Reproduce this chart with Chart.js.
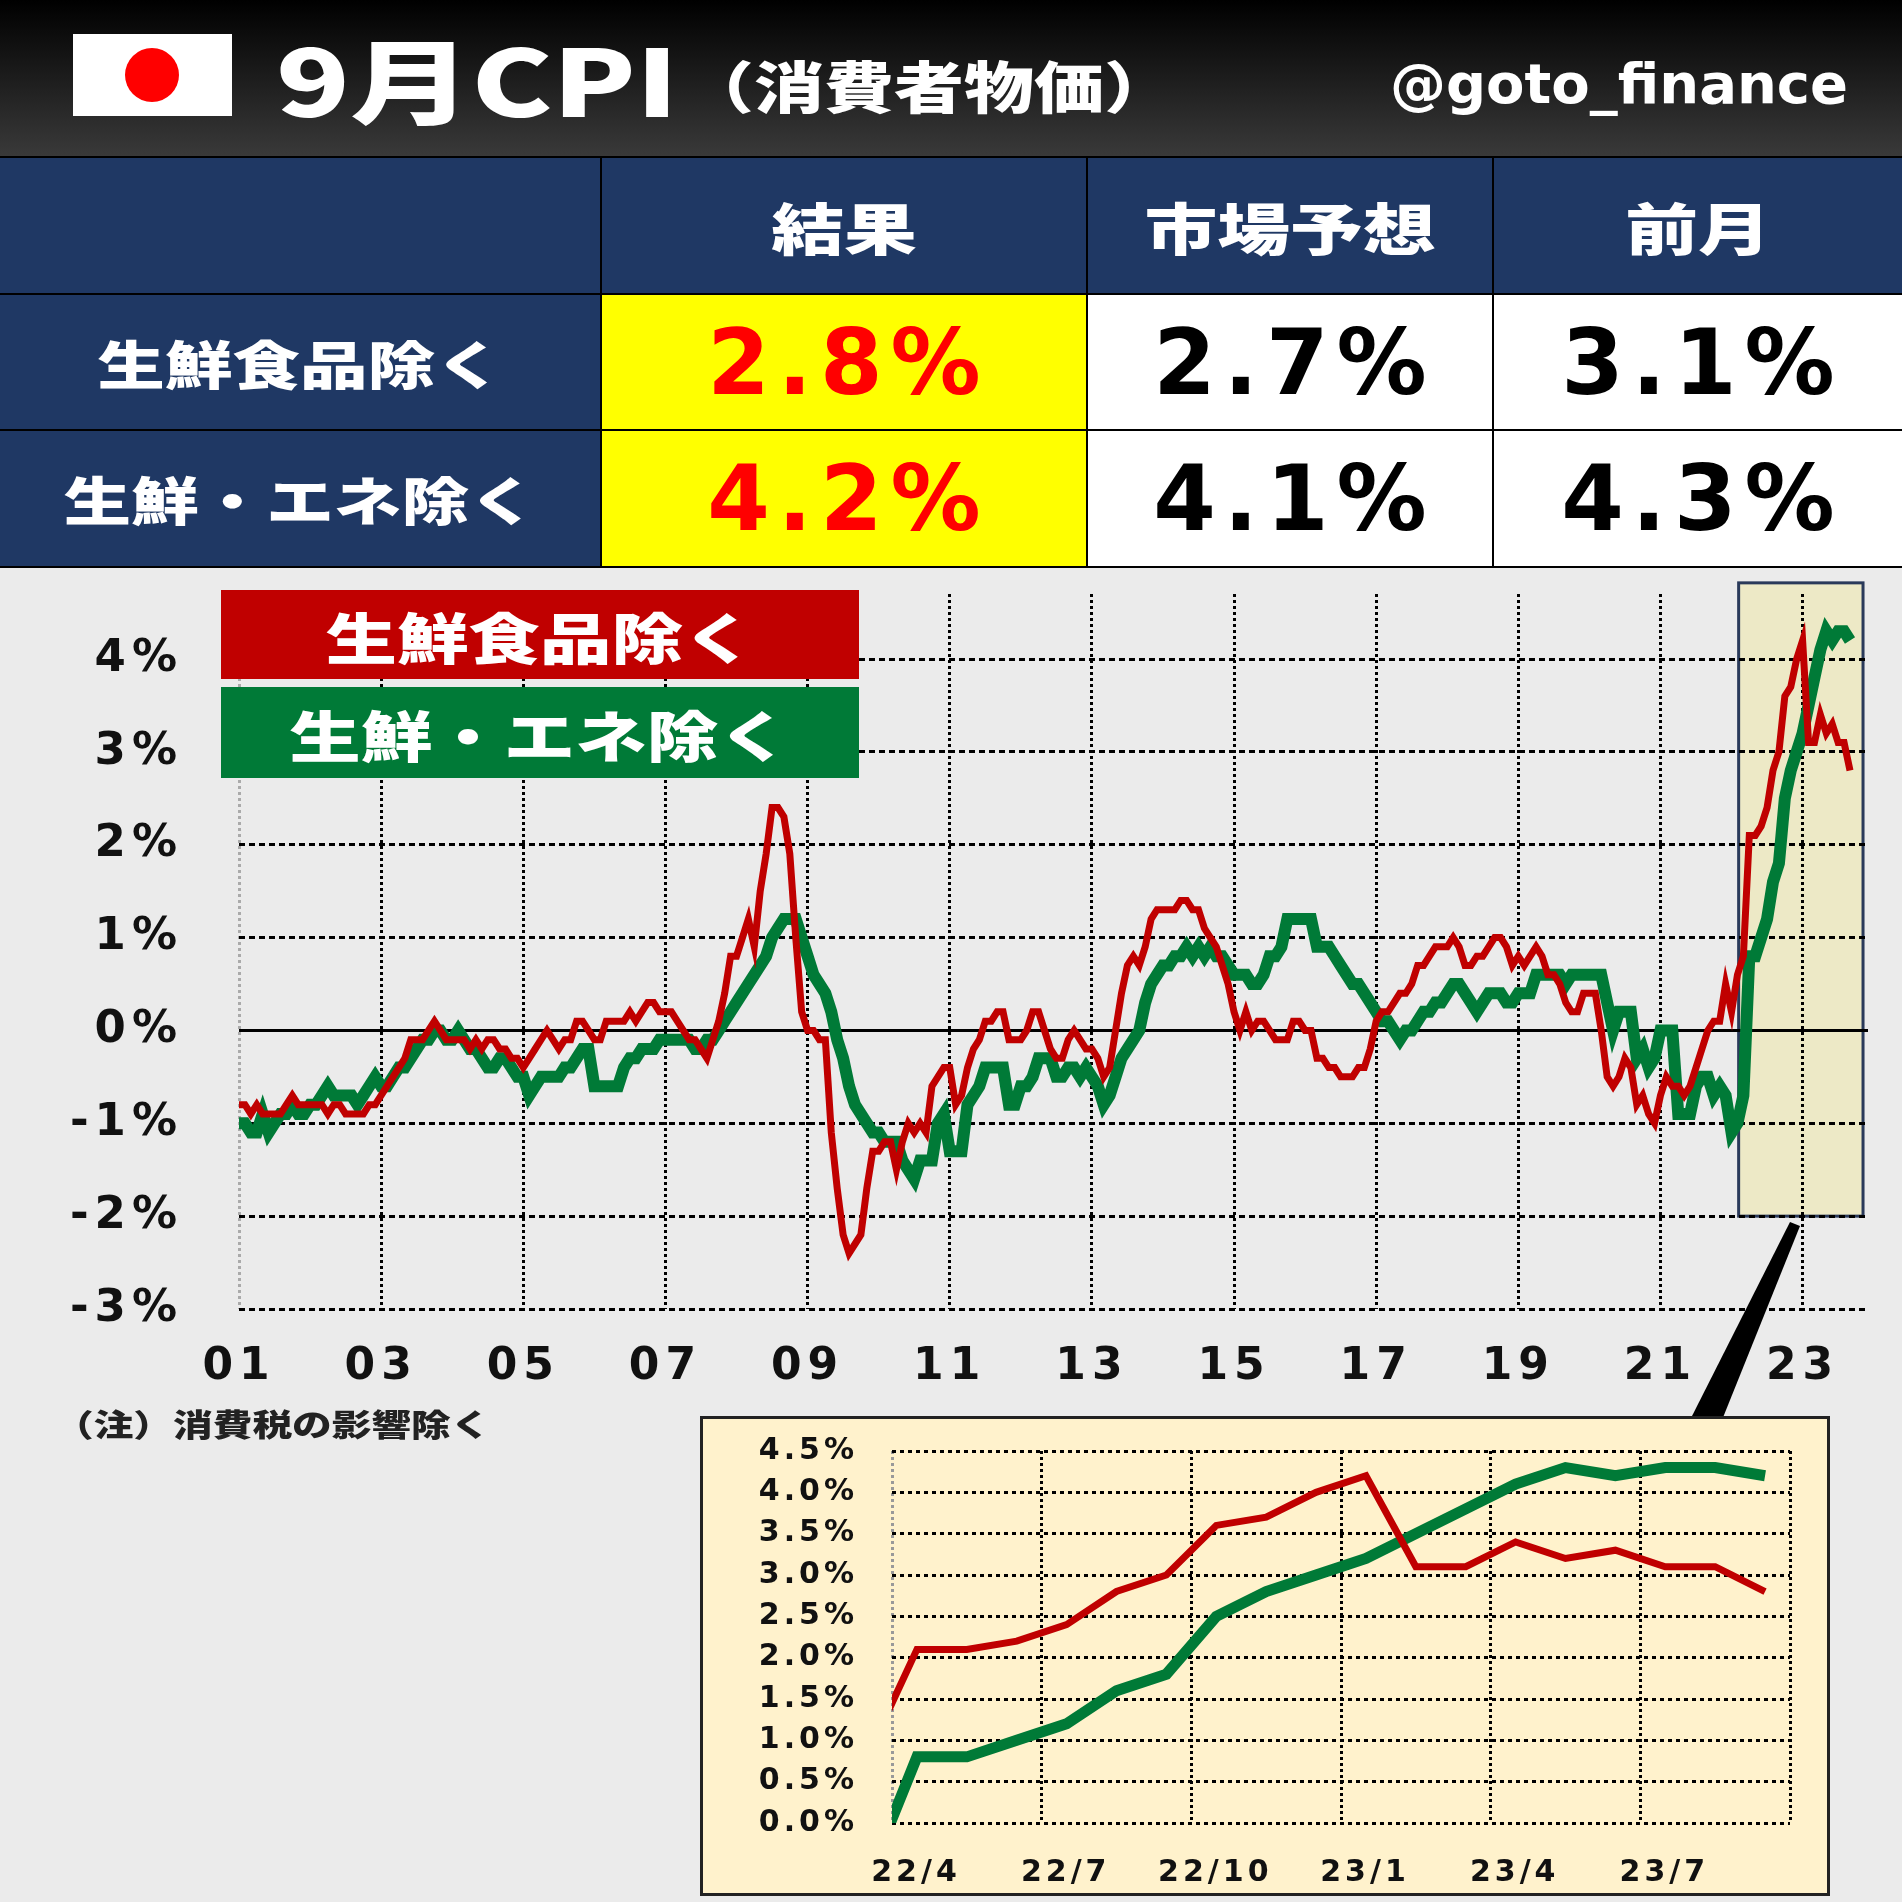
<!DOCTYPE html>
<html>
<head>
<meta charset="utf-8">
<script src="https://cdn.jsdelivr.net/npm/chart.js@4.4.0/dist/chart.umd.min.js"></script>
<style>
body{margin:0;width:1902px;height:1902px;position:relative;background:#ebebeb;overflow:hidden;font-family:"Noto Sans CJK JP",sans-serif}
.abs{position:absolute}
.cell{position:absolute;display:flex;align-items:center;justify-content:center;font-weight:900;white-space:nowrap}
.cell span{display:inline-block;transform:scaleX(1.3)}
.nav{background:#1f3864;color:#fff}
.num{font-family:"DejaVu Sans",sans-serif;font-weight:bold;font-size:90px;letter-spacing:8px;padding-left:8px;box-sizing:border-box}
</style>
</head>
<body>
<div class="abs" style="left:0;top:0;width:1902px;height:158px;background:linear-gradient(#000,#3a3a3a)"></div>
<div class="abs" style="left:73px;top:34px;width:159px;height:82px;background:#fff"></div>
<div class="abs" style="left:125px;top:48px;width:54px;height:54px;border-radius:50%;background:#f00"></div>
<div class="abs" style="left:276px;top:12px;color:#fff;font-weight:900;font-size:92px;line-height:130px;transform:scaleX(1.32);transform-origin:left">9月CPI</div>
<div class="abs" style="left:684px;top:44px;color:#fff;font-weight:900;font-size:56px;line-height:80px;transform:scaleX(1.25);transform-origin:left">（消費者物価）</div>
<div class="abs" style="right:54px;top:44px;color:#fff;font-family:'DejaVu Sans';font-weight:bold;font-size:56px;line-height:80px">@goto_finance</div>

<div class="abs" style="left:0;top:156px;width:1902px;height:412px;background:#000"></div>
<div class="cell nav" style="left:0;top:158px;width:600px;height:135px"></div>
<div class="cell nav" style="left:602px;top:158px;width:484px;height:135px;font-size:56px"><span>結果</span></div>
<div class="cell nav" style="left:1088px;top:158px;width:404px;height:135px;font-size:56px"><span>市場予想</span></div>
<div class="cell nav" style="left:1494px;top:158px;width:408px;height:135px;font-size:56px"><span>前月</span></div>
<div class="cell nav" style="left:0;top:295px;width:600px;height:134px;font-size:52px"><span>生鮮食品除く</span></div>
<div class="cell num" style="left:602px;top:295px;width:484px;height:134px;background:#ff0;color:#f00">2.8%</div>
<div class="cell num" style="left:1088px;top:295px;width:404px;height:134px;background:#fff;color:#000">2.7%</div>
<div class="cell num" style="left:1494px;top:295px;width:408px;height:134px;background:#fff;color:#000">3.1%</div>
<div class="cell nav" style="left:0;top:431px;width:600px;height:135px;font-size:52px"><span>生鮮・エネ除く</span></div>
<div class="cell num" style="left:602px;top:431px;width:484px;height:135px;background:#ff0;color:#f00">4.2%</div>
<div class="cell num" style="left:1088px;top:431px;width:404px;height:135px;background:#fff;color:#000">4.1%</div>
<div class="cell num" style="left:1494px;top:431px;width:408px;height:135px;background:#fff;color:#000">4.3%</div>

<canvas id="main" class="abs" style="left:0;top:580px"></canvas>
<div class="cell" style="left:221px;top:590px;width:638px;height:89px;background:#c00000;color:#fff;font-size:55px"><span>生鮮食品除く</span></div>
<div class="cell" style="left:221px;top:687px;width:638px;height:91px;background:#007a37;color:#fff;font-size:55px"><span>生鮮・エネ除く</span></div>
<div class="abs" style="left:54px;top:1400px;font-weight:900;font-size:31px;color:#222;transform:scaleX(1.28);transform-origin:left">（注）消費税の影響除く</div>
<div class="abs" style="left:0;top:0;width:1902px;height:1902px;background:#000;clip-path:polygon(1790px 1222px,1800px 1226px,1722px 1420px,1690px 1420px)"></div>

<div class="abs" style="left:700px;top:1416px;width:1124px;height:474px;background:#fff2cc;border:3px solid #222"></div>
<canvas id="inset" class="abs" style="left:701px;top:1417px"></canvas>

<script>
// 生鮮食品除く総合 (消費税の影響除く), 前年比 %, 2001/1 - 2023/9
const coreCPI = [
  -0.8,-0.8,-0.9,-0.8,-0.9,-0.9,-0.9,-0.9,-0.8,-0.7,-0.8,-0.8, // 2001
  -0.8,-0.8,-0.8,-0.9,-0.8,-0.8,-0.9,-0.9,-0.9,-0.9,-0.8,-0.8, // 2002
  -0.7,-0.6,-0.5,-0.4,-0.3,-0.1,-0.1,-0.1,0.0,0.1,0.0,-0.1,    // 2003
  -0.1,-0.1,-0.1,-0.2,-0.1,-0.2,-0.1,-0.1,-0.2,-0.2,-0.3,-0.3, // 2004
  -0.4,-0.3,-0.2,-0.1,0.0,-0.1,-0.2,-0.1,-0.1,0.1,0.1,0.0,     // 2005
  -0.1,-0.1,0.1,0.1,0.1,0.1,0.2,0.1,0.2,0.3,0.3,0.2,           // 2006
  0.2,0.2,0.1,0.0,-0.1,-0.1,-0.2,-0.3,-0.1,0.1,0.4,0.8,        // 2007
  0.8,1.0,1.2,0.9,1.5,1.9,2.4,2.4,2.3,1.9,1.0,0.2,             // 2008
  0.0,0.0,-0.1,-0.1,-1.1,-1.7,-2.2,-2.4,-2.3,-2.2,-1.7,-1.3,   // 2009
  -1.3,-1.2,-1.2,-1.5,-1.2,-1.0,-1.1,-1.0,-1.1,-0.6,-0.5,-0.4, // 2010
  -0.4,-0.8,-0.7,-0.4,-0.2,-0.1,0.1,0.1,0.2,0.2,-0.1,-0.1,     // 2011
  -0.1,0.0,0.2,0.2,0.0,-0.2,-0.3,-0.3,-0.1,0.0,-0.1,-0.2,      // 2012
  -0.2,-0.3,-0.5,-0.4,0.0,0.4,0.7,0.8,0.7,0.9,1.2,1.3,         // 2013
  1.3,1.3,1.3,1.4,1.4,1.3,1.3,1.1,1.0,0.9,0.7,0.5,             // 2014
  0.2,0.0,0.2,0.0,0.1,0.1,0.0,-0.1,-0.1,-0.1,0.1,0.1,          // 2015
  0.0,0.0,-0.3,-0.3,-0.4,-0.4,-0.5,-0.5,-0.5,-0.4,-0.4,-0.2,   // 2016
  0.1,0.2,0.2,0.3,0.4,0.4,0.5,0.7,0.7,0.8,0.9,0.9,             // 2017
  0.9,1.0,0.9,0.7,0.7,0.8,0.8,0.9,1.0,1.0,0.9,0.7,             // 2018
  0.8,0.7,0.8,0.9,0.8,0.6,0.6,0.5,0.3,0.2,0.2,0.4,             // 2019
  0.4,0.4,0.0,-0.5,-0.6,-0.5,-0.3,-0.4,-0.8,-0.7,-0.9,-1.0,    // 2020
  -0.7,-0.5,-0.6,-0.6,-0.7,-0.6,-0.4,-0.2,0.0,0.1,0.1,0.5,     // 2021
  0.2,0.6,0.8,2.1,2.1,2.2,2.4,2.8,3.0,3.6,3.7,4.0,             // 2022
  4.2,3.1,3.1,3.4,3.2,3.3,3.1,3.1,2.8                          // 2023
];
// 生鮮食品及びエネルギー除く総合 (消費税の影響除く)
const coreCoreCPI = [
  -1.0,-1.0,-1.1,-1.1,-0.9,-1.1,-1.0,-0.9,-0.9,-0.8,-0.9,-0.9, // 2001
  -0.8,-0.8,-0.7,-0.6,-0.7,-0.7,-0.7,-0.7,-0.8,-0.7,-0.6,-0.5, // 2002
  -0.6,-0.6,-0.5,-0.4,-0.4,-0.3,-0.2,-0.1,-0.1,0.0,0.0,-0.1,   // 2003
  -0.1,0.0,-0.1,-0.2,-0.2,-0.3,-0.4,-0.4,-0.3,-0.3,-0.4,-0.5,  // 2004
  -0.5,-0.7,-0.6,-0.5,-0.5,-0.5,-0.5,-0.4,-0.4,-0.3,-0.2,-0.2, // 2005
  -0.6,-0.6,-0.6,-0.6,-0.6,-0.4,-0.3,-0.3,-0.2,-0.2,-0.2,-0.1, // 2006
  -0.1,-0.1,-0.1,-0.1,-0.1,-0.2,-0.2,-0.1,-0.1,0.0,0.1,0.2,    // 2007
  0.3,0.4,0.5,0.6,0.7,0.8,1.0,1.1,1.2,1.2,1.2,1.0,             // 2008
  0.8,0.6,0.5,0.4,0.2,-0.1,-0.3,-0.6,-0.8,-0.9,-1.0,-1.1,      // 2009
  -1.1,-1.2,-1.2,-1.2,-1.4,-1.5,-1.6,-1.4,-1.4,-1.4,-1.0,-0.9, // 2010
  -1.3,-1.3,-1.3,-0.8,-0.7,-0.6,-0.4,-0.4,-0.4,-0.4,-0.8,-0.8, // 2011
  -0.6,-0.6,-0.5,-0.3,-0.3,-0.3,-0.5,-0.5,-0.4,-0.4,-0.5,-0.4, // 2012
  -0.5,-0.6,-0.8,-0.7,-0.5,-0.3,-0.2,-0.1,0.0,0.3,0.5,0.6,     // 2013
  0.7,0.7,0.8,0.8,0.9,0.8,0.9,0.8,0.9,0.8,0.8,0.7,             // 2014
  0.6,0.6,0.6,0.5,0.5,0.6,0.8,0.8,0.9,1.2,1.2,1.2,             // 2015
  1.2,1.2,0.9,0.9,0.9,0.8,0.7,0.6,0.5,0.5,0.4,0.3,             // 2016
  0.2,0.1,0.1,0.0,-0.1,0.0,0.0,0.1,0.2,0.2,0.3,0.3,            // 2017
  0.4,0.5,0.5,0.4,0.3,0.2,0.3,0.4,0.4,0.4,0.3,0.3,             // 2018
  0.4,0.4,0.4,0.6,0.6,0.6,0.6,0.6,0.5,0.6,0.6,0.6,             // 2019
  0.6,0.6,0.6,0.3,0.0,0.2,0.2,0.2,-0.3,-0.2,-0.4,-0.3,         // 2020
  0.0,0.0,0.0,-0.9,-0.9,-0.9,-0.6,-0.5,-0.5,-0.7,-0.6,-0.7,    // 2021
  -1.1,-1.0,-0.7,0.8,0.8,1.0,1.2,1.6,1.8,2.5,2.8,3.0,          // 2022
  3.2,3.5,3.8,4.1,4.3,4.2,4.3,4.3,4.2                          // 2023
];
const yearTicks = ['01','03','05','07','09','11','13','15','17','19','21','23'];
const insetLabels = ['22/4','22/7','22/10','23/1','23/4','23/7'];
const insetStart = 21 * 12 + 2; // 2022/3

const RED = '#c00000', GREEN = '#007a37';
const bold = (s) => ({family: 'DejaVu Sans', weight: 'bold', size: s});

function sized(id, w, h) {
  const c = document.getElementById(id);
  c.width = w; c.height = h; c.style.width = w + 'px'; c.style.height = h + 'px';
  return c;
}

const monthly = (arr) => arr.map((v, i) => ({x: i / 12, y: v}));

// wider tick lettering, like the original's
const spacing = (px) => ({
  id: 'spacing',
  beforeDraw(chart) { chart.ctx.letterSpacing = px; }
});

const noPad = (s) => { s.paddingTop = 0; s.paddingBottom = 0; s.paddingLeft = 0; s.paddingRight = 0; };

const mainDecor = {
  id: 'mainDecor',
  beforeDraw(chart) {
    const {ctx, scales: {x, y}} = chart;
    const l = x.getPixelForValue(21.1), r = x.getPixelForValue(22.85);
    const t = y.getPixelForValue(4.82), b = y.getPixelForValue(-2);
    ctx.save();
    ctx.fillStyle = '#ede9c6';
    ctx.fillRect(l, t, r - l, b - t);
    ctx.strokeStyle = '#2a3a5a';
    ctx.lineWidth = 3;
    ctx.strokeRect(l, t, r - l, b - t);
    ctx.restore();
  },
  beforeDatasetsDraw(chart) {
    const {ctx, chartArea, scales: {y}} = chart;
    const y0 = y.getPixelForValue(0);
    ctx.save();
    ctx.strokeStyle = '#000';
    ctx.lineWidth = 3;
    ctx.beginPath();
    ctx.moveTo(chartArea.left, y0);
    ctx.lineTo(chartArea.right, y0);
    ctx.stroke();
    ctx.restore();
  }
};

const mainChart = new Chart(sized('main', 1902, 840), {
  type: 'line',
  data: {
    datasets: [
      {data: monthly(coreCPI), borderColor: RED, borderWidth: 7, pointRadius: 0, tension: 0},
      {data: monthly(coreCoreCPI), borderColor: GREEN, borderWidth: 12, pointRadius: 0, tension: 0}
    ]
  },
  options: {
    responsive: false, animation: false,
    layout: {padding: {top: 14, right: 34, left: 0, bottom: 0}},
    plugins: {legend: {display: false}, tooltip: {enabled: false}},
    scales: {
      x: {
        type: 'linear', min: 0, max: 22.92,
        ticks: {color: '#111', font: bold(44), padding: 32, autoSkip: false, maxRotation: 0,
          callback: (v) => yearTicks[v / 2]},
        afterBuildTicks: (s) => { s.ticks = yearTicks.map((_, i) => ({value: i * 2})); },
        afterFit: (s) => { s.height = 111; noPad(s); },
        grid: {color: (c) => c.tick && c.tick.value === 0 ? '#aaa' : '#000', lineWidth: 3, drawTicks: false},
        border: {display: false, dash: [3, 3]}
      },
      y: {
        min: -3, max: 4.7,
        ticks: {stepSize: 1, color: '#111', font: bold(45), padding: 56, autoSkip: false,
          callback: (v) => v + '%'},
        afterBuildTicks: (s) => { s.ticks = s.ticks.filter(t => Number.isInteger(t.value)); },
        afterFit: (s) => { s.width = 239; noPad(s); },
        grid: {color: '#000', lineWidth: 3, drawTicks: false},
        border: {display: false, dash: [6, 4]}
      }
    }
  },
  plugins: [mainDecor, spacing('6px')]
});

const insetSlice = (arr) => arr.slice(insetStart).map((v, i) => ({x: i, y: v}));

const insetChart = new Chart(sized('inset', 1128, 478), {
  type: 'line',
  data: {
    datasets: [
      {data: insetSlice(coreCPI), borderColor: RED, borderWidth: 7, pointRadius: 0, tension: 0},
      {data: insetSlice(coreCoreCPI), borderColor: GREEN, borderWidth: 11, pointRadius: 0, tension: 0}
    ]
  },
  options: {
    responsive: false, animation: false,
    layout: {padding: {top: 34, right: 39, left: 0, bottom: 0}},
    plugins: {legend: {display: false}, tooltip: {enabled: false}},
    scales: {
      x: {
        type: 'linear', min: 0.5, max: 18.5,
        ticks: {color: '#111', font: bold(30), padding: 32, labelOffset: 24, autoSkip: false, maxRotation: 0,
          callback: (v) => insetLabels[Math.round((v - 0.5) / 3)] || ''},
        afterBuildTicks: (s) => {
          s.ticks = [0.5, 3.5, 6.5, 9.5, 12.5, 15.5, 18.5].map(v => ({value: v}));
        },
        afterFit: (s) => { s.height = 72; noPad(s); },
        grid: {color: (c) => c.tick && c.tick.value === 0.5 ? '#999' : '#000', lineWidth: 3, drawTicks: false},
        border: {display: false, dash: [3, 3]}
      },
      y: {
        min: 0, max: 4.5,
        ticks: {stepSize: 0.5, color: '#111', font: bold(30), padding: 34, autoSkip: false,
          callback: (v) => v.toFixed(1) + '%'},
        afterFit: (s) => { s.width = 191; noPad(s); },
        grid: {color: '#000', lineWidth: 3, drawTicks: false},
        border: {display: false, dash: [4, 4]}
      }
    }
  },
  plugins: [spacing('4px')]
});
</script>
</body>
</html>
